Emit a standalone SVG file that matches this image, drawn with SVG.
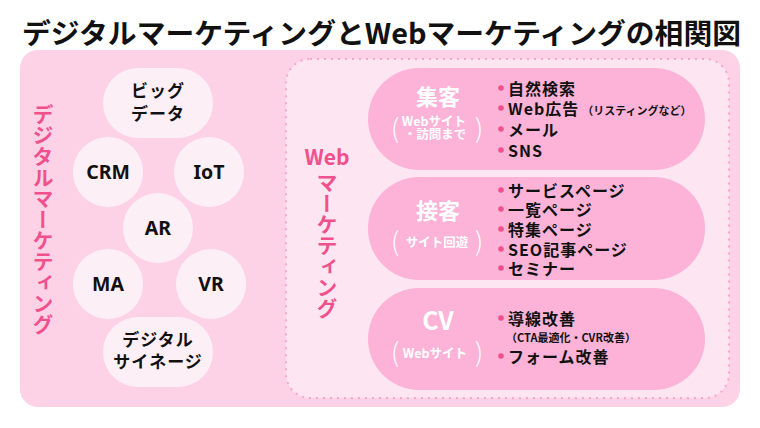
<svg xmlns="http://www.w3.org/2000/svg" width="760" height="428" viewBox="0 0 760 428">
<style>
text{font-family:"Noto Sans CJK JP","Noto Sans",sans-serif;}
.title{font-size:28px;font-weight:700;fill:#111;}
.bub{fill:#fdeff6;}
.bt{font-size:17px;font-weight:700;fill:#111;text-anchor:middle;letter-spacing:1px;}
.lt{font-family:"Noto Sans","Noto Sans CJK JP",sans-serif;font-size:19.5px;font-weight:700;fill:#111;text-anchor:middle;}
.vert{writing-mode:vertical-rl;font-size:21px;font-weight:700;fill:#f0518c;}
.pill{fill:#fcb3d7;}
.pt{font-size:22px;font-weight:700;fill:#fff;text-anchor:middle;}
.ps{font-size:12.5px;font-weight:700;fill:#fff;text-anchor:middle;}
.par{font-size:26px;font-weight:300;fill:#fff;text-anchor:middle;}
.it{font-size:16px;font-weight:700;fill:#111;letter-spacing:1px;}
.sm{font-size:11px;font-weight:700;fill:#111;letter-spacing:0;}
.dot{fill:#f0518c;}
</style>
<text class="title" x="22" y="44" textLength="719" lengthAdjust="spacingAndGlyphs">デジタルマーケティングとWebマーケティングの相関図</text>
<rect x="20" y="50" width="720" height="357" rx="18" fill="#fdd2e7"/>
<g id="connectors"/>
<g id="digital-label">
<text class="vert" x="43" y="104">デジタルマーケティング</text>
</g>
<g id="node-bigdata">
<rect class="bub" x="103" y="68" width="110" height="70" rx="35"/>
<text class="bt" x="158" y="97">ビッグ<tspan x="158" dy="23">データ</tspan></text>
</g>
<g id="node-crm"><circle class="bub" cx="108" cy="172" r="35"/><text class="lt" x="108" y="179">CRM</text></g>
<g id="node-iot"><circle class="bub" cx="209" cy="172" r="35"/><text class="lt" x="209" y="179">IoT</text></g>
<g id="node-ar"><circle class="bub" cx="158" cy="228" r="35"/><text class="lt" x="158" y="235">AR</text></g>
<g id="node-ma"><circle class="bub" cx="108" cy="284" r="35"/><text class="lt" x="108" y="291">MA</text></g>
<g id="node-vr"><circle class="bub" cx="211" cy="284" r="35"/><text class="lt" x="211" y="291">VR</text></g>
<g id="node-signage">
<rect class="bub" x="103" y="317" width="110" height="70" rx="35"/>
<text class="bt" x="158" y="346">デジタル<tspan x="158" dy="22">サイネージ</tspan></text>
</g>
<g id="web-area">
<rect x="286" y="59" width="443" height="339" rx="24" fill="#fde5f1" stroke="#f8a6cb" stroke-width="2" stroke-dasharray="2 5"/>
<text x="327" y="165" font-size="21" font-weight="700" fill="#f0518c" text-anchor="middle" font-family="Noto Sans, Noto Sans CJK JP, sans-serif">Web</text>
<text class="vert" x="327" y="172">マーケティング</text>
</g>
<g id="node-shukyaku">
<rect class="pill" x="368" y="68" width="337" height="102" rx="51"/>
<text class="pt" x="438" y="105">集客</text>
<text class="par" x="395" y="138">(</text>
<text class="par" x="479" y="138">)</text>
<text class="ps" x="434" y="126">Webサイト<tspan x="435" dy="13">・訪問まで</tspan></text>
<circle class="dot" cx="501" cy="88" r="2.8"/>
<circle class="dot" cx="501" cy="108" r="2.8"/>
<circle class="dot" cx="501" cy="129" r="2.8"/>
<circle class="dot" cx="501" cy="150" r="2.8"/>
<text class="it" x="508" y="95">自然検索<tspan x="508" dy="20">Web広告</tspan><tspan class="sm" dx="3">（リスティングなど）</tspan><tspan x="508" y="136">メール</tspan><tspan x="508" y="157">SNS</tspan></text>
</g>
<g id="node-sekkyaku">
<rect class="pill" x="368" y="177" width="337" height="103" rx="51"/>
<text class="pt" x="438" y="219">接客</text>
<text class="par" x="395" y="251">(</text>
<text class="par" x="479" y="251">)</text>
<text class="ps" x="437" y="247">サイト回遊</text>
<circle class="dot" cx="501" cy="190" r="2.8"/>
<circle class="dot" cx="501" cy="209" r="2.8"/>
<circle class="dot" cx="501" cy="229" r="2.8"/>
<circle class="dot" cx="501" cy="249" r="2.8"/>
<circle class="dot" cx="501" cy="268" r="2.8"/>
<text class="it" x="508" y="197">サービスページ<tspan x="508" y="216">一覧ページ</tspan><tspan x="508" y="236">特集ページ</tspan><tspan x="508" y="256">SEO記事ページ</tspan><tspan x="508" y="275">セミナー</tspan></text>
</g>
<g id="node-cv">
<rect class="pill" x="368" y="288" width="337" height="102" rx="51"/>
<text x="438" y="330" font-size="25" font-weight="700" fill="#fff" text-anchor="middle" font-family="Noto Sans, Noto Sans CJK JP, sans-serif">CV</text>
<text class="par" x="395" y="362">(</text>
<text class="par" x="479" y="362">)</text>
<text class="ps" x="435" y="358">Webサイト</text>
<circle class="dot" cx="501" cy="318" r="2.8"/>
<circle class="dot" cx="501" cy="356" r="2.8"/>
<text class="it" x="508" y="325">導線改善<tspan class="sm" x="506" y="342" font-size="12">（CTA最適化・CVR改善）</tspan><tspan x="508" y="363">フォーム改善</tspan></text>
</g>
</svg>
